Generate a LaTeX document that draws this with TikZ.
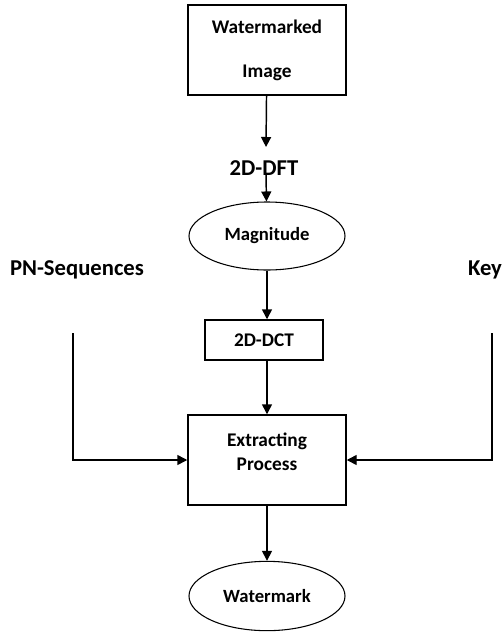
\documentclass[tikz,border=0pt]{standalone}
\usepackage{fontspec}
\setmainfont{Carlito}
\usetikzlibrary{shapes.geometric,arrows.meta}
\begin{document}
\begin{tikzpicture}[x=0.75pt,y=-0.75pt,
	flow/.style={line width=1.1pt,-{Triangle[length=7.5pt,width=7.5pt]}},
	blk/.style={draw,line width=1.1pt,minimum width=118.5pt,minimum height=67.5pt,align=center,inner sep=0pt,font=\fontsize{14.5}{18}\selectfont\bfseries},
	oval/.style={draw,ellipse,line width=0.8pt,minimum width=117pt,minimum height=51pt,inner sep=0pt,font=\fontsize{14}{16}\selectfont\bfseries},
	lbl/.style={font=\fontsize{17}{20}\selectfont\bfseries,inner sep=0pt}]
	\useasboundingbox (0,0) rectangle (502,635);
	%
	\node[blk] (wimg) at (267,50) {Watermarked\\[15pt]Image};
	\node[lbl] (dft) at (264,168) {2D-DFT};
	\node[oval] (mag) at (267,236) {Magnitude};
	\node[blk,minimum width=88.5pt,minimum height=30pt] (dct) at (264,340) {2D-DCT};
	\node[blk] (extract) at (267,460) {Extracting\\Process\\[-6pt]};
	\node[oval,minimum height=52pt] (wm) at (267,596) {Watermark};
	%
	\node[lbl] (pn) at (77,270) {PN-Sequences};
	\node[lbl] (key) at (485,270) {Key};
	\coordinate (pntop) at (73,333);
	\coordinate (keytop) at (492,333);
	%
	\draw[flow] (wimg) -- (266,147);
	\draw[flow] (266,173) -- (mag);
	\draw[flow] (mag) -- (dct.north -| mag);
	\draw[flow] (dct.south -| mag) -- (extract);
	\draw[flow] (extract) -- (wm);
	\draw[flow] (pntop) |- (extract.west);
	\draw[flow] (keytop) |- (extract.east);
\end{tikzpicture}
\end{document}
